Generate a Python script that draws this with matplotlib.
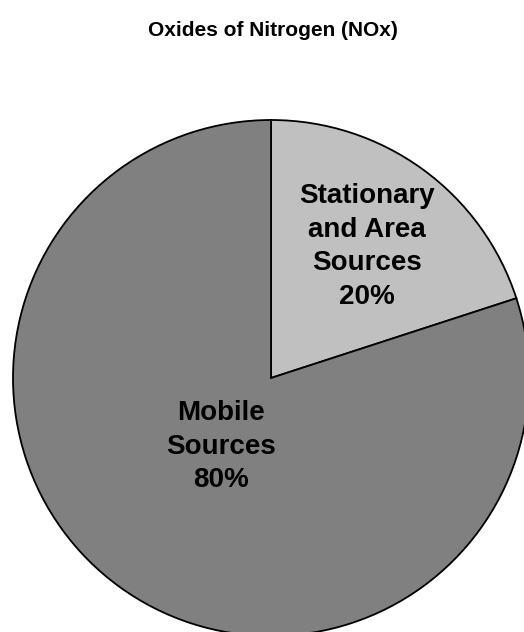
import numpy as np
import matplotlib
matplotlib.use("Agg")
import matplotlib.pyplot as plt

# data
categories = ["Stationary\nand Area\nSources", "Mobile\nSources"]
shares = [20, 80]
colors = ["#c0c0c0", "#808080"]
label_dist = [0.63, 0.33]  # fraction of radius where each label sits

W, H = 524, 632
fig = plt.figure(figsize=(W / 100, H / 100), dpi=100)
ax = fig.add_axes([0, 0, 1, 1])

cx, cy, r = 271, H - 378, 258
wedges, _ = ax.pie(shares, colors=colors, startangle=90, counterclock=False,
                   center=(cx, cy), radius=r, frame=True,
                   wedgeprops=dict(edgecolor="black", linewidth=1.3))

for w, cat, val, d in zip(wedges, categories, shares, label_dist):
    mid = np.deg2rad((w.theta1 + w.theta2) / 2)
    x = cx + d * r * np.cos(mid)
    y = cy + d * r * np.sin(mid)
    ax.text(x, y, f"{cat}\n{val}%", ha="center", va="center",
            fontsize=20, fontweight="bold", family="Liberation Sans",
            linespacing=1.38)

ax.set_xlim(0, W)
ax.set_ylim(0, H)
ax.set_aspect("equal")
ax.axis("off")

fig.text(273 / W, 1 - 31 / H, "Oxides of Nitrogen (NOx)", ha="center", va="center",
         fontsize=15, fontweight="bold", family="Liberation Sans")

fig.savefig("out.png", dpi=100)
